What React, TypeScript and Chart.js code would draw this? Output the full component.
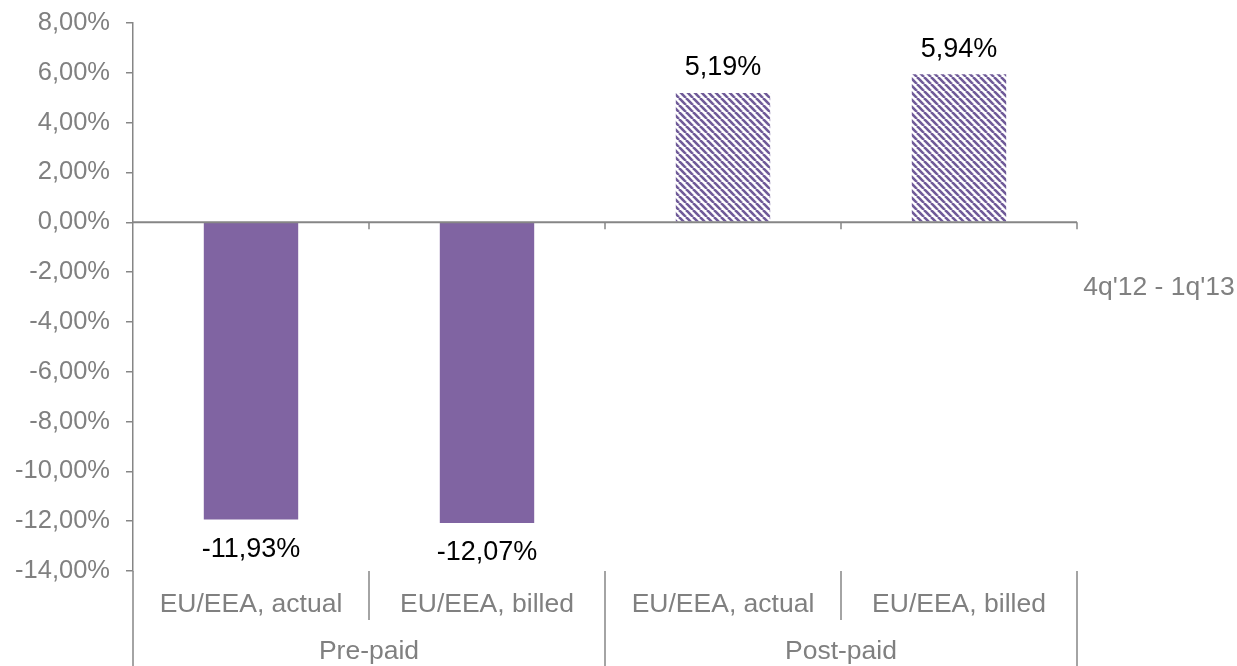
import React, { useEffect, useRef } from 'react';
import { Chart, registerables } from 'chart.js';

Chart.register(...registerables);

const categories = ['EU/EEA, actual', 'EU/EEA, billed', 'EU/EEA, actual', 'EU/EEA, billed'];
const groups = ['Pre-paid', 'Post-paid'];
const groupSizes = [2, 2];
const seriesName = "4q'12 - 1q'13";
const values = [-11.93, -12.07, 5.19, 5.94];
const hatched = [false, false, true, true];
const yMin = -14;
const yMax = 8;
const yStep = 2;

const FONT = "'Liberation Sans', Arial, sans-serif";
const TICK_SIZE = 25.5;
const CAT_SIZE = 26.5;
const LABEL_SIZE = 27;
const LEGEND_SIZE = 26.5;
const GRAY_TEXT = '#808080';
const AXIS = '#868686';
const PURPLE = '#8064A2';
const STRIPE = '#6f5a98';

const fmt = (v: number) => v.toFixed(2).replace('.', ',') + '%';

function makePattern(): CanvasPattern | string {
  const c = document.createElement('canvas');
  const s = 7;
  c.width = s;
  c.height = s;
  const g = c.getContext('2d');
  if (!g) return STRIPE;
  g.fillStyle = '#ffffff';
  g.fillRect(0, 0, s, s);
  g.strokeStyle = STRIPE;
  g.lineWidth = 2.6;
  for (const k of [-s, 0, s]) {
    g.beginPath();
    g.moveTo(k, 0);
    g.lineTo(k + s, s);
    g.stroke();
  }
  const p = g.createPattern(c, 'repeat');
  return p || STRIPE;
}

const overlay = {
  id: 'overlay',
  afterDatasetsDraw(chart: any) {
    const ctx = chart.ctx as CanvasRenderingContext2D;
    const area = chart.chartArea;
    const y = chart.scales.y;
    const H = chart.height;
    const zeroY = y.getPixelForValue(0);
    const n = categories.length;
    const catW = (area.right - area.left) / n;

    ctx.save();
    // zero line
    ctx.strokeStyle = AXIS;
    ctx.lineWidth = 2;
    ctx.beginPath();
    ctx.moveTo(area.left, zeroY);
    ctx.lineTo(area.right, zeroY);
    ctx.stroke();
    // tick marks on zero line
    ctx.lineWidth = 1.5;
    for (let i = 1; i <= n; i++) {
      const bx = Math.round(area.left + catW * i);
      ctx.beginPath();
      ctx.moveTo(bx, zeroY);
      ctx.lineTo(bx, zeroY + 7);
      ctx.stroke();
    }
    // left axis extension down
    ctx.lineWidth = 1.5;
    ctx.beginPath();
    ctx.moveTo(area.left, area.bottom);
    ctx.lineTo(area.left, H);
    ctx.stroke();
    // separators
    let idx = 0;
    const groupBounds: number[] = [0];
    groupSizes.forEach((gs) => {
      idx += gs;
      groupBounds.push(idx);
    });
    for (let i = 1; i <= n; i++) {
      const bx = Math.round(area.left + catW * i);
      const isGroup = groupBounds.includes(i);
      ctx.beginPath();
      ctx.moveTo(bx, area.bottom);
      ctx.lineTo(bx, isGroup ? H : area.bottom + 49);
      ctx.stroke();
    }
    // category labels
    ctx.fillStyle = GRAY_TEXT;
    ctx.font = `${CAT_SIZE}px ${FONT}`;
    ctx.textAlign = 'center';
    ctx.textBaseline = 'middle';
    categories.forEach((c, i) => {
      ctx.fillText(c, area.left + catW * (i + 0.5), area.bottom + 34);
    });
    groups.forEach((g, gi) => {
      const a = groupBounds[gi];
      const b = groupBounds[gi + 1];
      ctx.fillText(g, area.left + (catW * (a + b)) / 2, area.bottom + 81);
    });
    // legend text
    ctx.font = `${LEGEND_SIZE}px ${FONT}`;
    ctx.fillText(seriesName, (area.right + chart.width) / 2 + 2, 288);
    // data labels
    ctx.fillStyle = '#000000';
    ctx.font = `${LABEL_SIZE}px ${FONT}`;
    const meta = chart.getDatasetMeta(0);
    meta.data.forEach((bar: any, i: number) => {
      const v = values[i];
      const ly = v >= 0 ? bar.y - 25 : bar.y + 30;
      ctx.fillText(fmt(v), bar.x, ly);
    });
    ctx.restore();
  },
};

export default function App() {
  const ref = useRef<HTMLCanvasElement | null>(null);
  useEffect(() => {
    if (!ref.current) return;
    const pattern = makePattern();
    const chart = new Chart(ref.current, {
      type: 'bar',
      data: {
        labels: categories.map((c, i) => `${c} ${i}`),
        datasets: [
          {
            label: seriesName,
            data: values,
            backgroundColor: values.map((_, i) => (hatched[i] ? pattern : PURPLE)) as any,
            borderWidth: 0,
            barPercentage: 0.4,
            categoryPercentage: 1,
          },
        ],
      },
      options: {
        responsive: false,
        animation: false,
        layout: { padding: { left: 0, right: 160, top: 23, bottom: 95 } },
        plugins: {
          legend: { display: false },
          tooltip: { enabled: false },
        },
        scales: {
          x: { display: false },
          y: {
            min: yMin,
            max: yMax,
            ticks: {
              stepSize: yStep,
              color: GRAY_TEXT,
              font: { family: FONT, size: TICK_SIZE },
              padding: 16,
              callback: (v: any) => fmt(Number(v)),
            },
            grid: { drawOnChartArea: false, tickLength: 7, color: AXIS, lineWidth: 1.5 },
            border: { display: true, color: AXIS, width: 1.5 },
            afterFit: (s: any) => {
              s.width = 133;
              s.paddingTop = 0;
              s.paddingBottom = 0;
            },
          },
        },
      },
      plugins: [overlay],
    });
    return () => chart.destroy();
  }, []);
  return (
    <div style={{ position: 'absolute', left: 0, top: 0, width: 1237, height: 666, background: '#fff' }}>
      <canvas ref={ref} width={1237} height={666} style={{ width: 1237, height: 666, display: 'block' }} />
    </div>
  );
}
